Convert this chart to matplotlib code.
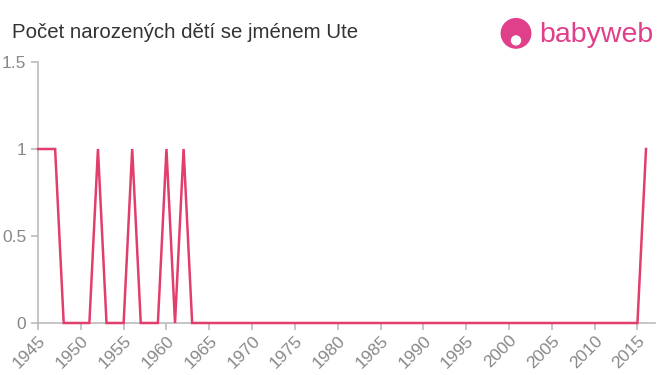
import matplotlib.pyplot as plt
from matplotlib.patches import Circle

plt.rcParams['font.family'] = ['Liberation Sans', 'DejaVu Sans']

years = list(range(1945, 2017))
ones = [1945, 1946, 1947, 1952, 1956, 1960, 1962, 2016]
counts = [1 if y in ones else 0 for y in years]
xticks = list(range(1945, 2016, 5))
yticks = [0, 0.5, 1, 1.5]
yticklabels = ["0", "0.5", "1", "1.5"]

fig = plt.figure(figsize=(6.6, 3.75), dpi=100)
ax = fig.add_axes([38 / 660, 1 - 323 / 375, 617 / 660, 261 / 375])

ax.plot(years, counts, color="#e23e6b", lw=1.8, solid_joinstyle="miter",
        zorder=5, clip_on=False)

ax.set_xlim(1945, 2017.05)
ax.set_ylim(0, 1.5)
ax.set_xticks(xticks)
ax.set_xticklabels([str(x) for x in xticks], rotation=45, ha="right",
                   rotation_mode="anchor")
ax.set_yticks(yticks)
ax.set_yticklabels(yticklabels)
ax.tick_params(axis="both", colors="#bbbbbb", labelcolor="#888888",
               labelsize=12.5, length=5, width=1.2)
ax.tick_params(axis="x", pad=2)

for side in ["top", "right"]:
    ax.spines[side].set_visible(False)
for side in ["left", "bottom"]:
    ax.spines[side].set_color("#bbbbbb")
    ax.spines[side].set_linewidth(1.2)

fig.text(12 / 660, 1 - 32 / 375, "Počet narozených dětí se jménem Ute",
         fontsize=14.7, color="#333333", va="center")

# babyweb logo
logo = fig.add_axes([500 / 660, 1 - 50 / 375, 32 / 660, 32 / 375])
logo.set_xlim(0, 1)
logo.set_ylim(0, 1)
logo.set_aspect("equal")
logo.axis("off")
logo.add_patch(Circle((0.5, 0.52), 0.46, color="#e0408a"))
logo.add_patch(Circle((0.5, 0.3), 0.14, color="white"))
fig.text(539 / 660, 1 - 35 / 375, "babyweb", fontsize=20.5, color="#e0408a",
         va="center")

fig.savefig("out.png", dpi=100)
